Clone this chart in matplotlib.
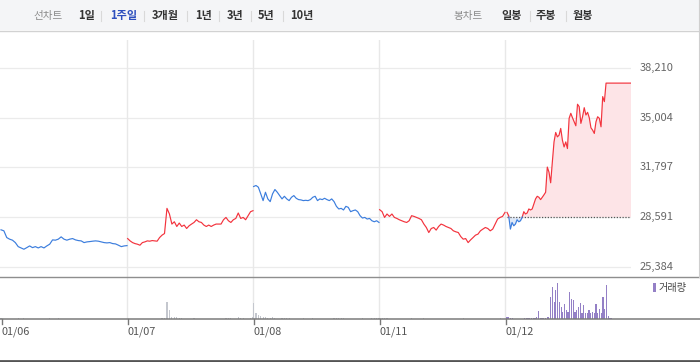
import matplotlib
matplotlib.use('Agg')
import matplotlib.pyplot as plt
import numpy as np
from matplotlib.lines import Line2D
from matplotlib.patches import Rectangle
import matplotlib.transforms as mtransforms

plt.rcParams['font.family'] = ['Noto Sans CJK KR', 'DejaVu Sans']

# ---------------- data ----------------
prev_close = 28591
ytick_vals = [38210, 35004, 31797, 28591, 25384]
xtick_labels = ['01/06', '01/07', '01/08', '01/11', '01/12']

price_d1 = [27765, 27700, 27265, 27161, 27096, 26940, 26680, 26595, 26511, 26615, 26725, 26615,
            26680, 26595, 26680, 26595, 26725, 26836, 27115, 27096, 27161, 27310, 27161, 27096,
            27161, 27200, 27115, 27070, 27050, 26940, 26985, 27005, 27031, 27050, 27031, 26985,
            26940, 26920, 26940, 26875, 26855, 26771, 26680, 26725, 26745]
price_d2 = [27200, 27050, 26940, 26875, 26836, 26771, 26940, 26985, 27050, 27031, 27070, 27050,
            27031, 27265, 27421, 27525, 29150, 28786, 28136, 28285, 27980, 28201, 27980, 28071,
            27850, 28025, 28136, 28240, 28415, 28285, 28240, 28071, 27980, 28071, 27980, 28071,
            28136, 28136, 28136, 28415, 28565, 28350, 28240, 28415, 28500, 28851, 28500, 28565,
            28415, 28675, 28935, 29000]
price_d3 = [30560, 30626, 30515, 30086, 29650, 30190, 29761, 29585, 30086, 30366, 30190, 29975,
            29761, 29930, 29761, 29650, 29865, 29975, 29800, 29715, 29696, 29650, 29670, 29650,
            29715, 29865, 29930, 29650, 29761, 29715, 29800, 29715, 29650, 29761, 29585, 29280,
            29111, 29150, 29046, 29280, 29215, 28936, 29000, 29046, 28936, 28676, 28526, 28565,
            28461, 28500, 28350, 28285, 28350, 28240]
price_d4 = [29065, 28936, 28565, 28786, 28630, 28786, 28565, 28500, 28415, 28350, 28285, 28240,
            28350, 28676, 28630, 28565, 28500, 28415, 28136, 27915, 27590, 27850, 27915, 27746,
            27980, 28136, 28071, 27980, 27915, 27850, 27700, 27636, 27590, 27330, 27161, 27200,
            26940, 27115, 27265, 27421, 27486, 27700, 27811, 27915, 27850, 27700, 27811, 28136,
            28461, 28565, 28630, 28890]
price_d5 = [28890, 28676, 27811, 28240, 28025, 28136, 28415, 28285, 28350, 28565, 28936, 28786,
            28851, 29111, 29046, 29111, 29436, 29761, 29930, 29865, 29715, 29865, 30021, 30190,
            31815, 31490, 30801, 32140, 33440, 34051, 33765, 33876, 34311, 33551, 33115, 33440,
            33011, 34961, 35286, 35000, 34740, 34480, 35871, 35715, 34636, 35065, 35650, 35176,
            35351, 35000, 34350, 34200, 33986, 34740, 35065, 34961, 34415, 36365, 36040, 37236]

# volume in thousand shares
vol_d1 = [30, 0, 0, 0, 0, 0, 30, 0, 30, 0, 0, 0, 0, 0, 0, 0, 0, 30, 0, 0, 30, 0, 0, 0, 0, 0, 0,
          0, 0, 0, 0, 0, 0, 0, 0, 0, 0, 0, 0, 0, 0, 0, 0, 0, 0]
vol_d2 = [0, 0, 0, 0, 0, 0, 0, 0, 0, 0, 0, 0, 0, 0, 30, 30, 520, 280, 80, 60, 60, 40, 40, 0, 0, 0,
          0, 30, 0, 0, 0, 0, 0, 0, 0, 0, 0, 0, 0, 0, 40, 40, 40, 0, 0, 60, 40, 40, 0, 0, 40, 60]
vol_d3 = [490, 180, 130, 100, 80, 80, 50, 50, 70, 40, 0, 0, 30, 30, 30, 30, 0, 0, 0, 0, 0, 30, 0,
          0, 0, 30, 0, 0, 0, 0, 0, 0, 0, 0, 40, 40, 40, 40, 40, 0, 0, 0, 0, 0, 0, 0, 30, 0, 0, 0,
          40, 40, 40, 40]
vol_d4 = [30, 30, 30, 30, 0, 0, 0, 0, 0, 0, 0, 0, 0, 30, 0, 0, 0, 0, 30, 0, 0, 0, 0, 0, 0, 0, 0,
          0, 0, 0, 0, 0, 0, 0, 30, 0, 0, 0, 0, 0, 0, 0, 0, 0, 0, 0, 0, 0, 0, 30, 0, 0]
vol_d5 = [81, 60, 39, 39, 0, 0, 0, 0, 0, 0, 39, 39, 39, 39, 39, 39, 39, 60, 261, 39, 39, 39, 39,
          81, 60, 681, 981, 531, 870, 1101, 510, 360, 231, 450, 270, 231, 810, 600, 570, 231, 279,
          360, 480, 180, 420, 201, 180, 279, 180, 231, 180, 471, 180, 300, 180, 681, 300, 1029, 90,
          51, 30]

past_prices = [price_d1, price_d2, price_d3, price_d4]
past_vols = [vol_d1, vol_d2, vol_d3, vol_d4]
past_colors = ['#3b7ddd', '#f3333d', '#3b7ddd', '#f3333d']

# ---------------- styling ----------------
RED = '#f3333d'
BLUE = '#3b7ddd'
LW = 0.85
W, H = 700, 362

def fx(px):
    return px / W

def fy(py):
    return 1 - py / H

fig = plt.figure(figsize=(7, 3.62), dpi=100)
fig.patch.set_facecolor('white')

# header bar
fig.patches.append(Rectangle((0, fy(30)), 1, 30 / H, transform=fig.transFigure,
                             facecolor='#f4f5f7', edgecolor='none', zorder=0))
fig.lines.append(Line2D([0, 1], [fy(30.5)] * 2, transform=fig.transFigure, color='#d2d2d2', lw=1))

left_items = ['선차트', '1일', '1주일', '3개월', '1년', '3년', '5년', '10년']
left_x = [33, 78, 110, 152, 195, 227, 258, 290]
left_seps = [101, 144, 187, 219, 251, 283]
right_items = ['봉차트', '일봉', '주봉', '월봉']
right_x = [453, 501, 536, 573]
right_seps = [530, 566]

for i, (t, x) in enumerate(zip(left_items, left_x)):
    if i == 0:
        fig.text(fx(x), fy(15.5), t, fontsize=7.6, color='#8a8a8a', ha='left', va='center')
    else:
        col = '#2d4fbe' if t == '1주일' else '#333333'
        fig.text(fx(x), fy(15.5), t, fontsize=8, color=col, ha='left', va='center', fontweight='bold')
for i, (t, x) in enumerate(zip(right_items, right_x)):
    if i == 0:
        fig.text(fx(x), fy(15.5), t, fontsize=7.6, color='#8a8a8a', ha='left', va='center')
    else:
        fig.text(fx(x), fy(15.5), t, fontsize=8, color='#333333', ha='left', va='center', fontweight='bold')
for s in left_seps + right_seps:
    fig.lines.append(Line2D([fx(s)] * 2, [fy(10.5), fy(20.5)], transform=fig.transFigure,
                            color='#d9d9d9', lw=0.8))

# main price axes
ax = fig.add_axes([0, fy(276.7), fx(631), (276.7 - 40) / H])
ax.set_xlim(-0.008, 5.0)
ax.set_ylim(24738, 40019)
ax.axis('off')

for v in ytick_vals:
    ax.axhline(v, color='#ebebeb', lw=0.9, zorder=0)
for d in range(1, 5):
    ax.axvline(d, color='#e8e8e8', lw=1.0, zorder=0)

ylab_tr = mtransforms.blended_transform_factory(fig.transFigure, ax.transData)
for v in ytick_vals:
    ax.text(fx(640), v, f'{v:,}', transform=ylab_tr, fontsize=8, color='#666666',
            ha='left', va='center', clip_on=False)

spans = [(0.0, 1.0), (1.005, 2.0), (2.005, 3.0), (3.005, 4.0)]
for (s, e), vals, c in zip(spans, past_prices, past_colors):
    x = np.linspace(s, e, len(vals))
    ax.plot(x, vals, color=c, lw=LW, zorder=3)

# current day with fill relative to previous close
x5 = np.linspace(4.016, 4.802, len(price_d5))
x5 = np.append(x5, 5.0)
y5 = np.append(np.array(price_d5, dtype=float), price_d5[-1])

xs, ys = [x5[0]], [y5[0]]
for i in range(1, len(x5)):
    a, b = y5[i - 1] - prev_close, y5[i] - prev_close
    if a * b < 0:
        t = (prev_close - y5[i - 1]) / (y5[i] - y5[i - 1])
        xs.append(x5[i - 1] + t * (x5[i] - x5[i - 1]))
        ys.append(prev_close)
    xs.append(x5[i])
    ys.append(y5[i])
xs, ys = np.array(xs), np.array(ys)

ax.fill_between(xs, ys, prev_close, where=ys >= prev_close, color='#fde4e7', lw=0, zorder=1)
ax.fill_between(xs, ys, prev_close, where=ys <= prev_close, color='#dde8f8', lw=0, zorder=1)
ax.plot([4.016, 5.0], [prev_close, prev_close], color='#555555', lw=0.9,
        ls=(0, (1, 1.3)), zorder=2)
ax.plot(xs, np.where(ys >= prev_close, ys, np.nan), color=RED, lw=LW, zorder=3)
ax.plot(xs, np.where(ys <= prev_close, ys, np.nan), color=BLUE, lw=LW, zorder=3)

# volume axes
vax = fig.add_axes([0, fy(319.3), fx(631), (319.3 - 276.7) / H])
vax.set_xlim(-0.008, 5.0)
vax.set_ylim(0, 1278)
vax.axis('off')
for d in range(1, 5):
    vax.axvline(d, color='#e8e8e8', lw=1.0, zorder=0)
for (s, e), vols in zip(spans, past_vols):
    x = np.linspace(s, e, len(vols))
    vax.bar(x, vols, width=0.009, color='#c4c7ce', lw=0, zorder=2)
xv5 = np.linspace(4.016, 4.847, len(vol_d5))
vax.bar(xv5, vol_d5, width=0.0095, color='#9480c6', lw=0, zorder=2)

# legend
fig.patches.append(Rectangle((fx(653), fy(292)), fx(3.2), 9 / H, transform=fig.transFigure,
                             facecolor='#9480c6', edgecolor='none'))
fig.text(fx(659), fy(287.5), '거래량', fontsize=7.3, color='#444444', ha='left', va='center')

# panel lines
fig.lines.append(Line2D([0, 1], [fy(276.9)] * 2, transform=fig.transFigure, color='#8e8e8e', lw=1.0))
fig.lines.append(Line2D([0, 1], [fy(319.4)] * 2, transform=fig.transFigure, color='#7a7a7a', lw=1.1))
fig.lines.append(Line2D([0, 1], [fy(360.5)] * 2, transform=fig.transFigure, color='#555555', lw=2.0))
fig.lines.append(Line2D([fx(698.5)] * 2, [fy(0), fy(276.9)], transform=fig.transFigure,
                        color='#cfcfcf', lw=0.8))

# x ticks and labels
tick_tr = mtransforms.blended_transform_factory(vax.transData, fig.transFigure)
for d, lab in enumerate(xtick_labels):
    xd = d + 0.004
    vax.add_line(Line2D([xd, xd], [fy(319.4), fy(323.8)], transform=tick_tr, color='#777777',
                        lw=1.0, clip_on=False))
    vax.text(xd, fy(331.5), lab, transform=tick_tr, fontsize=7.8, color='#555555',
             ha='left', va='center', clip_on=False)

fig.savefig('out.png', dpi=100)
